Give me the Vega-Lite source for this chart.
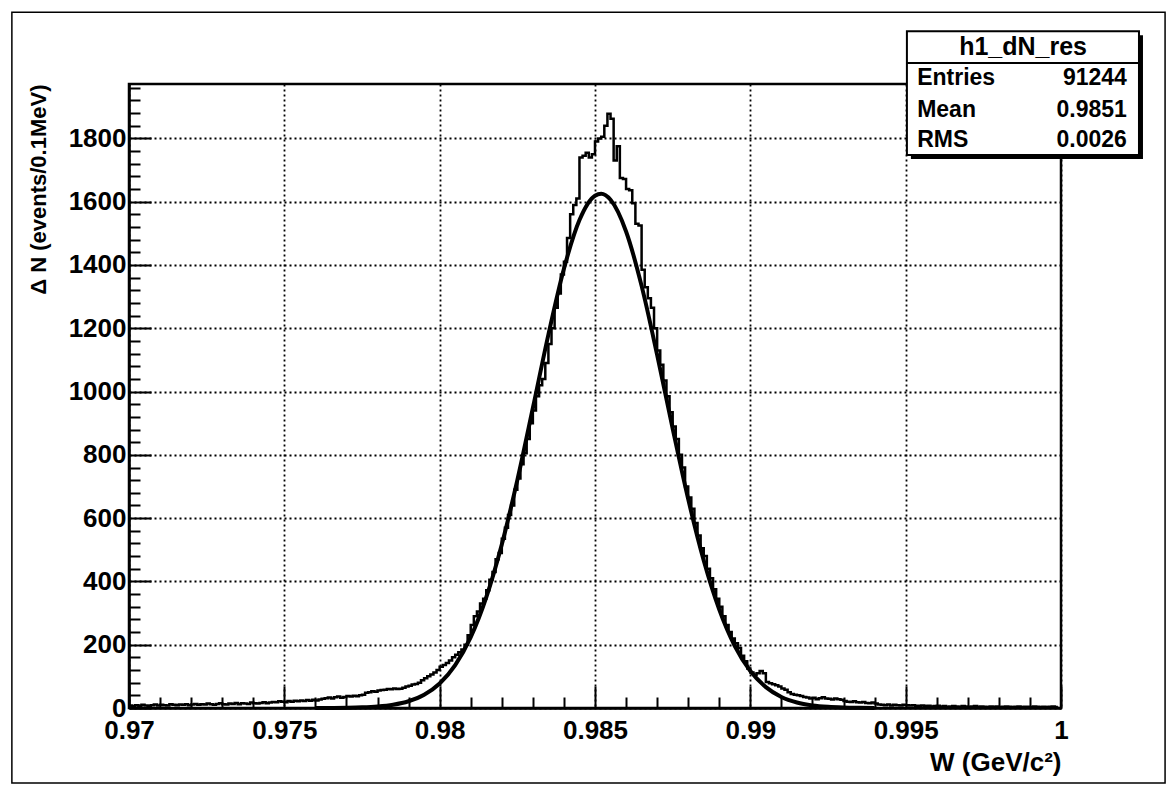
{
  "$schema": "https://vega.github.io/schema/vega-lite/v6.json",
  "width": 932,
  "height": 624,
  "autosize": {"type": "none"},
  "padding": {"left": 129, "top": 84, "right": 108, "bottom": 77},
  "background": "white",
  "resolve": {"axis": {"x": "independent", "y": "independent"}},
  "config": {
    "view": {"stroke": "black", "strokeWidth": 2.5},
    "font": "Liberation Sans",
    "axis": {
      "domainColor": "black", "domainWidth": 2.5,
      "tickColor": "black", "tickWidth": 2,
      "labelColor": "black", "titleColor": "black",
      "labelFont": "Liberation Sans", "titleFont": "Liberation Sans",
      "labelFontWeight": "bold", "titleFontWeight": "bold",
      "gridColor": "black", "gridDash": [2, 3], "gridWidth": 1.8
    }
  },
  "datasets": {
    "hist": [
      {"w":0.9700,"n":8},{"w":0.9701,"n":6},{"w":0.9702,"n":9},{"w":0.9703,"n":7},{"w":0.9704,"n":10},
      {"w":0.9705,"n":8},{"w":0.9706,"n":7},{"w":0.9707,"n":9},{"w":0.9708,"n":11},{"w":0.9709,"n":8},
      {"w":0.9710,"n":10},{"w":0.9711,"n":9},{"w":0.9712,"n":8},{"w":0.9713,"n":12},{"w":0.9714,"n":10},
      {"w":0.9715,"n":9},{"w":0.9716,"n":11},{"w":0.9717,"n":10},{"w":0.9718,"n":12},{"w":0.9719,"n":9},
      {"w":0.9720,"n":11},{"w":0.9721,"n":13},{"w":0.9722,"n":10},{"w":0.9723,"n":12},{"w":0.9724,"n":11},
      {"w":0.9725,"n":14},{"w":0.9726,"n":12},{"w":0.9727,"n":10},{"w":0.9728,"n":13},{"w":0.9729,"n":15},
      {"w":0.9730,"n":12},{"w":0.9731,"n":11},{"w":0.9732,"n":14},{"w":0.9733,"n":13},{"w":0.9734,"n":16},
      {"w":0.9735,"n":12},{"w":0.9736,"n":15},{"w":0.9737,"n":14},{"w":0.9738,"n":13},{"w":0.9739,"n":17},
      {"w":0.9740,"n":15},{"w":0.9741,"n":14},{"w":0.9742,"n":16},{"w":0.9743,"n":18},{"w":0.9744,"n":15},
      {"w":0.9745,"n":17},{"w":0.9746,"n":19},{"w":0.9747,"n":18},{"w":0.9748,"n":21},{"w":0.9749,"n":20},
      {"w":0.9750,"n":18},{"w":0.9751,"n":22},{"w":0.9752,"n":20},{"w":0.9753,"n":23},{"w":0.9754,"n":21},
      {"w":0.9755,"n":24},{"w":0.9756,"n":22},{"w":0.9757,"n":25},{"w":0.9758,"n":23},{"w":0.9759,"n":26},
      {"w":0.9760,"n":24},{"w":0.9761,"n":27},{"w":0.9762,"n":29},{"w":0.9763,"n":31},{"w":0.9764,"n":33},
      {"w":0.9765,"n":30},{"w":0.9766,"n":34},{"w":0.9767,"n":36},{"w":0.9768,"n":32},{"w":0.9769,"n":35},
      {"w":0.9770,"n":38},{"w":0.9771,"n":36},{"w":0.9772,"n":39},{"w":0.9773,"n":37},{"w":0.9774,"n":40},
      {"w":0.9775,"n":42},{"w":0.9776,"n":48},{"w":0.9777,"n":50},{"w":0.9778,"n":53},{"w":0.9779,"n":51},
      {"w":0.9780,"n":55},{"w":0.9781,"n":57},{"w":0.9782,"n":58},{"w":0.9783,"n":60},{"w":0.9784,"n":59},
      {"w":0.9785,"n":62},{"w":0.9786,"n":60},{"w":0.9787,"n":61},{"w":0.9788,"n":64},{"w":0.9789,"n":68},
      {"w":0.9790,"n":70},{"w":0.9791,"n":74},{"w":0.9792,"n":76},{"w":0.9793,"n":80},{"w":0.9794,"n":88},
      {"w":0.9795,"n":94},{"w":0.9796,"n":100},{"w":0.9797,"n":106},{"w":0.9798,"n":112},{"w":0.9799,"n":120},
      {"w":0.9800,"n":130},{"w":0.9801,"n":136},{"w":0.9802,"n":142},{"w":0.9803,"n":150},{"w":0.9804,"n":160},
      {"w":0.9805,"n":168},{"w":0.9806,"n":176},{"w":0.9807,"n":185},{"w":0.9808,"n":200},{"w":0.9809,"n":230},
      {"w":0.9810,"n":262},{"w":0.9811,"n":290},{"w":0.9812,"n":305},{"w":0.9813,"n":330},{"w":0.9814,"n":345},
      {"w":0.9815,"n":372},{"w":0.9816,"n":405},{"w":0.9817,"n":430},{"w":0.9818,"n":470},{"w":0.9819,"n":490},
      {"w":0.9820,"n":535},{"w":0.9821,"n":570},{"w":0.9822,"n":610},{"w":0.9823,"n":640},{"w":0.9824,"n":690},
      {"w":0.9825,"n":725},{"w":0.9826,"n":770},{"w":0.9827,"n":805},{"w":0.9828,"n":850},{"w":0.9829,"n":900},
      {"w":0.9830,"n":940},{"w":0.9831,"n":985},{"w":0.9832,"n":1020},{"w":0.9833,"n":1040},{"w":0.9834,"n":1090},
      {"w":0.9835,"n":1150},{"w":0.9836,"n":1200},{"w":0.9837,"n":1265},{"w":0.9838,"n":1310},{"w":0.9839,"n":1370},
      {"w":0.9840,"n":1410},{"w":0.9841,"n":1485},{"w":0.9842,"n":1560},{"w":0.9843,"n":1590},{"w":0.9844,"n":1610},
      {"w":0.9845,"n":1740},{"w":0.9846,"n":1745},{"w":0.9847,"n":1755},{"w":0.9848,"n":1740},{"w":0.9849,"n":1750},
      {"w":0.9850,"n":1790},{"w":0.9851,"n":1800},{"w":0.9852,"n":1805},{"w":0.9853,"n":1840},{"w":0.9854,"n":1878},
      {"w":0.9855,"n":1862},{"w":0.9856,"n":1730},{"w":0.9857,"n":1775},{"w":0.9858,"n":1675},{"w":0.9859,"n":1672},
      {"w":0.9860,"n":1640},{"w":0.9861,"n":1636},{"w":0.9862,"n":1595},{"w":0.9863,"n":1530},{"w":0.9864,"n":1525},
      {"w":0.9865,"n":1385},{"w":0.9866,"n":1330},{"w":0.9867,"n":1295},{"w":0.9868,"n":1265},{"w":0.9869,"n":1200},
      {"w":0.9870,"n":1130},{"w":0.9871,"n":1085},{"w":0.9872,"n":1035},{"w":0.9873,"n":985},{"w":0.9874,"n":935},
      {"w":0.9875,"n":890},{"w":0.9876,"n":850},{"w":0.9877,"n":800},{"w":0.9878,"n":760},{"w":0.9879,"n":700},
      {"w":0.9880,"n":665},{"w":0.9881,"n":630},{"w":0.9882,"n":585},{"w":0.9883,"n":545},{"w":0.9884,"n":505},
      {"w":0.9885,"n":480},{"w":0.9886,"n":440},{"w":0.9887,"n":410},{"w":0.9888,"n":375},{"w":0.9889,"n":345},
      {"w":0.9890,"n":320},{"w":0.9891,"n":290},{"w":0.9892,"n":262},{"w":0.9893,"n":240},{"w":0.9894,"n":220},
      {"w":0.9895,"n":205},{"w":0.9896,"n":190},{"w":0.9897,"n":165},{"w":0.9898,"n":148},{"w":0.9899,"n":125},
      {"w":0.9900,"n":112},{"w":0.9901,"n":105},{"w":0.9902,"n":110},{"w":0.9903,"n":117},{"w":0.9904,"n":110},
      {"w":0.9905,"n":82},{"w":0.9906,"n":78},{"w":0.9907,"n":75},{"w":0.9908,"n":72},{"w":0.9909,"n":68},
      {"w":0.9910,"n":62},{"w":0.9911,"n":58},{"w":0.9912,"n":50},{"w":0.9913,"n":44},{"w":0.9914,"n":42},
      {"w":0.9915,"n":40},{"w":0.9916,"n":38},{"w":0.9917,"n":35},{"w":0.9918,"n":33},{"w":0.9919,"n":30},
      {"w":0.9920,"n":32},{"w":0.9921,"n":28},{"w":0.9922,"n":31},{"w":0.9923,"n":34},{"w":0.9924,"n":30},
      {"w":0.9925,"n":29},{"w":0.9926,"n":27},{"w":0.9927,"n":30},{"w":0.9928,"n":28},{"w":0.9929,"n":26},
      {"w":0.9930,"n":22},{"w":0.9931,"n":20},{"w":0.9932,"n":19},{"w":0.9933,"n":21},{"w":0.9934,"n":18},
      {"w":0.9935,"n":17},{"w":0.9936,"n":19},{"w":0.9937,"n":16},{"w":0.9938,"n":15},{"w":0.9939,"n":17},
      {"w":0.9940,"n":14},{"w":0.9941,"n":11},{"w":0.9942,"n":10},{"w":0.9943,"n":9},{"w":0.9944,"n":11},
      {"w":0.9945,"n":8},{"w":0.9946,"n":10},{"w":0.9947,"n":9},{"w":0.9948,"n":8},{"w":0.9949,"n":10},
      {"w":0.9950,"n":9},{"w":0.9951,"n":8},{"w":0.9952,"n":9},{"w":0.9953,"n":7},{"w":0.9954,"n":7},
      {"w":0.9955,"n":8},{"w":0.9956,"n":6},{"w":0.9957,"n":7},{"w":0.9958,"n":5},{"w":0.9959,"n":6},
      {"w":0.9960,"n":7},{"w":0.9961,"n":5},{"w":0.9962,"n":6},{"w":0.9963,"n":4},{"w":0.9964,"n":5},
      {"w":0.9965,"n":6},{"w":0.9966,"n":5},{"w":0.9967,"n":4},{"w":0.9968,"n":6},{"w":0.9969,"n":5},
      {"w":0.9970,"n":4},{"w":0.9971,"n":5},{"w":0.9972,"n":6},{"w":0.9973,"n":4},{"w":0.9974,"n":5},
      {"w":0.9975,"n":4},{"w":0.9976,"n":3},{"w":0.9977,"n":5},{"w":0.9978,"n":4},{"w":0.9979,"n":5},
      {"w":0.9980,"n":3},{"w":0.9981,"n":4},{"w":0.9982,"n":5},{"w":0.9983,"n":4},{"w":0.9984,"n":3},
      {"w":0.9985,"n":4},{"w":0.9986,"n":5},{"w":0.9987,"n":3},{"w":0.9988,"n":4},{"w":0.9989,"n":4},
      {"w":0.9990,"n":3},{"w":0.9991,"n":5},{"w":0.9992,"n":4},{"w":0.9993,"n":3},{"w":0.9994,"n":4},
      {"w":0.9995,"n":3},{"w":0.9996,"n":4},{"w":0.9997,"n":5},{"w":0.9998,"n":3},{"w":0.9999,"n":4}
    ],
    "fit": [
      {"w":0.9760,"n":0},{"w":0.9765,"n":0.3},{"w":0.9770,"n":0.8},{"w":0.9775,"n":2},{"w":0.9780,"n":4.7},
      {"w":0.9785,"n":10.3},{"w":0.9790,"n":21.4},{"w":0.9795,"n":41.9},{"w":0.9800,"n":77.5},{"w":0.9805,"n":135.5},
      {"w":0.9810,"n":224},{"w":0.9815,"n":350},{"w":0.9820,"n":517},{"w":0.9825,"n":720},{"w":0.9830,"n":948},
      {"w":0.9835,"n":1180},{"w":0.9840,"n":1388},{"w":0.9845,"n":1542},{"w":0.9850,"n":1619},{"w":0.9852,"n":1625},
      {"w":0.9855,"n":1606},{"w":0.9860,"n":1506},{"w":0.9865,"n":1334},{"w":0.9870,"n":1116},{"w":0.9875,"n":883},
      {"w":0.9880,"n":660},{"w":0.9885,"n":466},{"w":0.9890,"n":311},{"w":0.9895,"n":196},{"w":0.9900,"n":117},
      {"w":0.9905,"n":66},{"w":0.9910,"n":35},{"w":0.9915,"n":17.5},{"w":0.9920,"n":8.3},{"w":0.9925,"n":3.7},
      {"w":0.9930,"n":1.5},{"w":0.9935,"n":0.6},{"w":0.9940,"n":0.2}
    ],
    "stats": [
      {"stat": "Entries", "value": "91244"},
      {"stat": "Mean", "value": "0.9851"},
      {"stat": "RMS", "value": "0.0026"}
    ],
    "box": [{"title": "h1_dN_res"}]
  },
  "layer": [
    {
      "data": {"name": "hist"},
      "mark": {"type": "line", "interpolate": "step-after", "color": "black", "strokeWidth": 2.5},
      "encoding": {
        "x": {
          "field": "w", "type": "quantitative",
          "scale": {"domain": [0.97, 1.0], "nice": false, "zero": false},
          "axis": {
            "title": "W (GeV/c²)", "orient": "bottom",
            "values": [0.97,0.971,0.972,0.973,0.974,0.975,0.976,0.977,0.978,0.979,0.98,0.981,0.982,0.983,0.984,0.985,0.986,0.987,0.988,0.989,0.99,0.991,0.992,0.993,0.994,0.995,0.996,0.997,0.998,0.999,1.0],
            "labelExpr": "abs(datum.value*200 - round(datum.value*200)) < 0.01 ? format(datum.value, '~g') : ''",
            "tickSize": {"condition": {"test": "abs(datum.value*200 - round(datum.value*200)) < 0.01", "value": -22}, "value": -11},
            "gridOpacity": {"condition": {"test": "abs(datum.value*200 - round(datum.value*200)) < 0.01", "value": 1}, "value": 0},
            "labelFontSize": 26, "labelPadding": 31, "labelFlush": false, "labelOverlap": false,
            "titleFontSize": 26, "titleAnchor": "end", "titleAlign": "right",
            "titleX": 932, "titleY": 62, "titleBaseline": "alphabetic"
          }
        },
        "y": {
          "field": "n", "type": "quantitative",
          "scale": {"domain": [0, 1972], "nice": false},
          "axis": {
            "title": "Δ N (events/0.1MeV)", "orient": "left",
            "values": [0,40,80,120,160,200,240,280,320,360,400,440,480,520,560,600,640,680,720,760,800,840,880,920,960,1000,1040,1080,1120,1160,1200,1240,1280,1320,1360,1400,1440,1480,1520,1560,1600,1640,1680,1720,1760,1800,1840,1880,1920,1960],
            "labelExpr": "datum.value % 200 === 0 ? format(datum.value, 'd') : ''",
            "tickSize": {"condition": {"test": "datum.value % 200 === 0", "value": -22}, "value": -11},
            "gridOpacity": {"condition": {"test": "datum.value % 200 === 0", "value": 1}, "value": 0},
            "labelFontSize": 26, "labelPadding": 25, "labelOverlap": false,
            "titleFontSize": 22, "titleAngle": -90, "titleAnchor": "end", "titleAlign": "right",
            "titleX": -91, "titleY": 0, "titleBaseline": "middle"
          }
        }
      }
    },
    {
      "data": {"name": "fit"},
      "mark": {"type": "line", "interpolate": "monotone", "color": "black", "strokeWidth": 4},
      "encoding": {
        "x": {"field": "w", "type": "quantitative", "axis": null},
        "y": {"field": "n", "type": "quantitative", "axis": null}
      }
    },
    {
      "data": {"name": "box"},
      "mark": {"type": "rect", "fill": "transparent", "stroke": "black", "strokeWidth": 1.5},
      "encoding": {
        "x": {"datum": 0.96623, "type": "quantitative", "axis": null}, "x2": {"datum": 1.00335},
        "y": {"datum": 2199, "type": "quantitative", "axis": null}, "y2": {"datum": -237}
      }
    },
    {
      "data": {"name": "box"},
      "mark": {"type": "rect", "fill": "black", "xOffset": 4, "x2Offset": 4, "yOffset": 4, "y2Offset": 4},
      "encoding": {
        "x": {"datum": 0.99504, "type": "quantitative", "axis": null}, "x2": {"datum": 1.00251},
        "y": {"datum": 2139, "type": "quantitative", "axis": null}, "y2": {"datum": 1748}
      }
    },
    {
      "data": {"name": "box"},
      "mark": {"type": "rect", "fill": "white", "stroke": "black", "strokeWidth": 2},
      "encoding": {
        "x": {"datum": 0.99504, "type": "quantitative", "axis": null}, "x2": {"datum": 1.00251},
        "y": {"datum": 2139, "type": "quantitative", "axis": null}, "y2": {"datum": 1748}
      }
    },
    {
      "data": {"name": "box"},
      "mark": {"type": "rule", "color": "black", "strokeWidth": 2},
      "encoding": {
        "x": {"datum": 0.99504, "type": "quantitative", "axis": null}, "x2": {"datum": 1.00251},
        "y": {"datum": 2038, "type": "quantitative", "axis": null}
      }
    },
    {
      "data": {"name": "box"},
      "mark": {"type": "text", "align": "center", "baseline": "middle", "fontSize": 25, "fontWeight": "bold", "font": "Liberation Sans", "color": "black"},
      "encoding": {"x": {"datum": 0.99878, "type": "quantitative", "axis": null}, "y": {"datum": 2089, "type": "quantitative", "axis": null}, "text": {"field": "title"}}
    },
    {
      "data": {"name": "stats"},
      "transform": [{"filter": "datum.stat === 'Entries'"}],
      "mark": {"type": "text", "align": "left", "baseline": "middle", "fontSize": 23, "fontWeight": "bold", "font": "Liberation Sans", "color": "black"},
      "encoding": {"x": {"datum": 0.99537, "type": "quantitative", "axis": null}, "y": {"datum": 1991, "type": "quantitative", "axis": null}, "text": {"field": "stat"}}
    },
    {
      "data": {"name": "stats"},
      "transform": [{"filter": "datum.stat === 'Entries'"}],
      "mark": {"type": "text", "align": "right", "baseline": "middle", "fontSize": 23, "fontWeight": "bold", "font": "Liberation Sans", "color": "black"},
      "encoding": {"x": {"datum": 1.00212, "type": "quantitative", "axis": null}, "y": {"datum": 1991, "type": "quantitative", "axis": null}, "text": {"field": "value"}}
    },
    {
      "data": {"name": "stats"},
      "transform": [{"filter": "datum.stat === 'Mean'"}],
      "mark": {"type": "text", "align": "left", "baseline": "middle", "fontSize": 23, "fontWeight": "bold", "font": "Liberation Sans", "color": "black"},
      "encoding": {"x": {"datum": 0.99537, "type": "quantitative", "axis": null}, "y": {"datum": 1890, "type": "quantitative", "axis": null}, "text": {"field": "stat"}}
    },
    {
      "data": {"name": "stats"},
      "transform": [{"filter": "datum.stat === 'Mean'"}],
      "mark": {"type": "text", "align": "right", "baseline": "middle", "fontSize": 23, "fontWeight": "bold", "font": "Liberation Sans", "color": "black"},
      "encoding": {"x": {"datum": 1.00212, "type": "quantitative", "axis": null}, "y": {"datum": 1890, "type": "quantitative", "axis": null}, "text": {"field": "value"}}
    },
    {
      "data": {"name": "stats"},
      "transform": [{"filter": "datum.stat === 'RMS'"}],
      "mark": {"type": "text", "align": "left", "baseline": "middle", "fontSize": 23, "fontWeight": "bold", "font": "Liberation Sans", "color": "black"},
      "encoding": {"x": {"datum": 0.99537, "type": "quantitative", "axis": null}, "y": {"datum": 1795, "type": "quantitative", "axis": null}, "text": {"field": "stat"}}
    },
    {
      "data": {"name": "stats"},
      "transform": [{"filter": "datum.stat === 'RMS'"}],
      "mark": {"type": "text", "align": "right", "baseline": "middle", "fontSize": 23, "fontWeight": "bold", "font": "Liberation Sans", "color": "black"},
      "encoding": {"x": {"datum": 1.00212, "type": "quantitative", "axis": null}, "y": {"datum": 1795, "type": "quantitative", "axis": null}, "text": {"field": "value"}}
    }
  ]
}
